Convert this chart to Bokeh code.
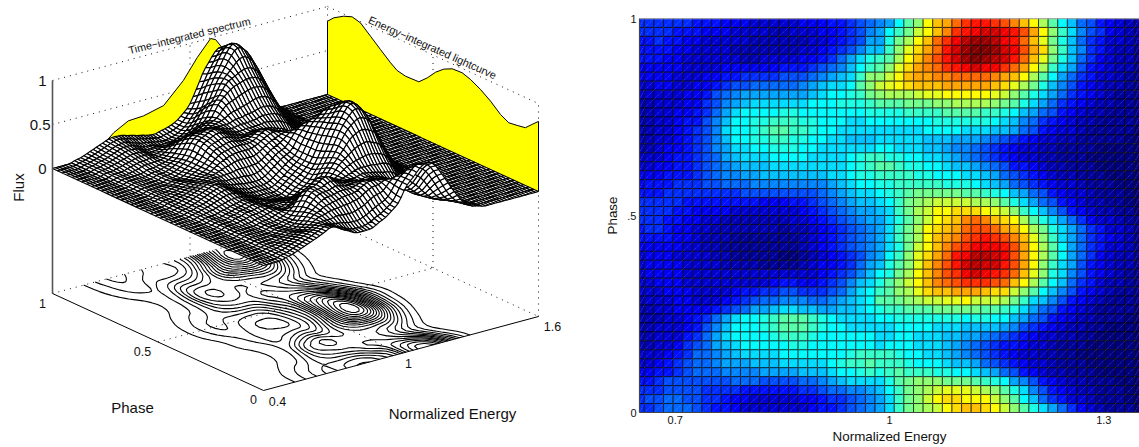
import numpy as np
import contourpy
from bokeh.core.properties import value
from bokeh.embed import file_html
from bokeh.layouts import column, row
from bokeh.models import ColumnDataSource, LinearColorMapper, Range1d, Span
from bokeh.plotting import figure
from bokeh.resources import INLINE

# Flux per cell, one base-36 digit (0..z = 0..1), top row = phase 1, energy 0.65 .. 1.35
FLUX_ROWS = [
 "6666665554 4433333444 556789adgi moprtuutsq omjgdb8754 322",
 "6666555444 3333223334 45679adfhk moqtuvwwvu spmifc9764 322",
 "5565544333 3322222233 4567aaehjm ortvxyyxvu rolheb8653 322",
 "5555443333 2222222334 5679bbfiln pruwyzzywv spnifb9653 221",
 "5554433333 3223333445 68acefgjmo qsuwyzyxwu rolheb8643 221",
 "4444433334 4444455567 89bdfgilnp qrtuvwvvtr pmjfca7543 221",
 "4444333445 5666677789 abcfiikmop pqqrrrrqpo mjgda86533 211",
 "3344334456 77888889ab ccdgiklmno ooppppponl jheb975432 211",
 "3333344578 9aaaaaaabc ddefhijjjk llmmmmmlki geca865432 111",
 "2233344679 abccccccdd deeefggghh hiijjjjihg eca8654322 111",
 "223344568a cddddeeddd ddddeeeeff ffggggffed ba87543221 111",
 "223345579b ddeefffeed ddccdddddd deeeeeedcb 9865432211 111",
 "223345679c ddefggffed dccccccccc ddddcccbba 8754332111 110",
 "223345679b ddeeffeedd ccbbbccccc bbbaaa9876 5433221111 100",
 "223445679a ccddeeeddc cccccddccc bba9987654 3322111100 000",
 "333455678a bcccddddcc ccdeffeedd ccba987654 3322111000 000",
 "3344556789 abbbcccccc ccdefggfee ddcbba9875 5432211100 000",
 "4445556789 9aabbbbbbb ccdeeffffe edddccba87 6543221110 000",
 "4555666778 8899999999 abcddeefff ffeeedcba8 7654332111 000",
 "5556666666 6777777778 9abccdefgh hhhhggfedb a875433211 100",
 "6666655555 5554445567 89abbcdfhi jkkkkjjige ca87543221 100",
 "6666554444 3333333456 789aabcfhj kmmnnnmlki fdb9754322 110",
 "6665544332 2222223345 6789aacegi kmnoqrqonm jgeca86433 211",
 "5665443322 2222212234 56789acfhj mnoprssrpo mjheca8653 321",
 "5555443222 1111111234 56789acfhj mopqstutsq olifca8654 321",
 "4444433221 1111111234 56789acehk moqstvvvus pmjgda8653 321",
 "3444333322 1111100123 45679adfil npruvxxwvs pmjgda8643 221",
 "3444433332 2221111234 4568abegil oqsuwxwwus pmifca7543 221",
 "3444433333 3333333334 5679bdehjm oqstvwvutr oliec97543 211",
 "3344433333 3333455445 679bcegikm oqrstttsro mjgdb86532 211",
 "3334443333 4556677666 78acdfgijl nooppponnk igdb975432 111",
 "2333443334 5678899988 9abcdgghij kkllmkkkjh fcb9754321 111",
 "2233444456 78aabccbba abbcdeffgg ghhhhhggfe ca87543211 110",
 "222334568a cddefgggfe dccccddeee eeeedeeddb a875432211 100",
 "223334579b dddefgggfe ddcccccddd dcccbbbba9 7654322110 000",
 "22333568ac ddddefffed dddddccddc ccbbaa9876 5433221100 000",
 "22334678ab cdddddeedd dddddcdddc ccba987655 4332111000 000",
 "333456889a bccccddddd ddeffffedd ccba987654 3322110000 000",
 "334567889a aabbbccccc deffgfffed ddcbba8765 4332111000 000",
 "4455678889 999aaaabbb cddefefgff feeddcba87 5432211100 000",
 "5567777777 8887777889 abccccegh i iihhhgfeda 9754322111 000",
 "6667777666 6555555667 8899abdfhi jklllkjige c975432211 100",
 "6778877665 4433333445 66789acfhi kmnnmmmkig db86533211 100",
 "6678887655 4333333345 56789acfhi jkmnoonmki geca864321 110",
]
# The surface also runs over energies the map leaves out: 0.4 .. 0.65 and 1.35 .. 1.6
LOW_ENERGY_TAIL = [
 "000000011122334455", "000000011122334455", "000000011122233445", "000000011122233445",
 "000000011122233445", "000000011112223334", "000000011112223334", "000000001111122233",
 "000000001111122233", "000000001111111122", "000000001111111122", "000000001111111122",
 "000000001111111122", "000000001111111122", "000000001111111122", "000000001111122233",
 "000000001111122233", "000000011112223334", "000000011112223334", "000000011122233445",
 "000000011122334455", "000000011122334455", "000000011122334455", "000000011122233445",
 "000000011122233445", "000000011112223334", "000000001111122233", "000000001111122233",
 "000000001111122233", "000000001111122233", "000000001111122233", "000000001111111122",
 "000000001111111122", "000000001111111122", "000000001111111122", "000000001111111122",
 "000000001111111122", "000000001111122233", "000000001111122233", "000000011112223334",
 "000000011122233445", "000000011122334455", "000000011122334455", "000000011122334455",
]
HIGH_ENERGY_TAIL = (
 ["110000000000000000"] * 3 + ["100000000000000000"] * 9 + ["000000000000000000"] * 10
 + ["100000000000000000"] * 10 + ["000000000000000000"] * 12
)

SPECTRUM_ENERGY = [0.40, 0.52, 0.60, 0.667, 0.731, 0.797, 0.885, 0.971, 1.032, 1.09, 1.112, 1.15, 1.22, 1.30, 1.40, 1.60]
SPECTRUM_FLUX = [0.0, 0.0, 0.067, 0.22, 0.31, 0.32, 0.376, 0.60, 0.82, 0.994, 0.966, 0.815, 0.45, 0.15, 0.0, 0.0]
LIGHTCURVE_PHASE = [1.0, 0.970, 0.923, 0.883, 0.844, 0.796, 0.749, 0.701, 0.670, 0.630, 0.567, 0.527, 0.488,
                    0.449, 0.409, 0.362, 0.322, 0.275, 0.227, 0.180, 0.141, 0.101, 0.062, 0.030, 0.0]
LIGHTCURVE_FLUX = [0.833, 0.905, 0.975, 1.012, 0.987, 0.887, 0.788, 0.69, 0.637, 0.616, 0.622, 0.711, 0.818,
                   0.896, 0.944, 0.951, 0.918, 0.857, 0.776, 0.677, 0.626, 0.64, 0.657, 0.73, 0.797]
CONTOUR_LEVELS = [0.05, 0.10, 0.15, 0.20, 0.25, 0.30, 0.35, 0.40, 0.45, 0.50,
                  0.55, 0.60, 0.65, 0.70, 0.75, 0.80, 0.85, 0.90, 0.95]
FLOOR = -1.42
FONT = value("Liberation Sans")


def digits(s):
    return [int(c, 36) / 35 for c in s.replace(" ", "")]


def soften(a):
    k = np.array([1, 2, 1]) / 4
    pad = np.pad(a, 1, mode="edge")
    out = np.apply_along_axis(lambda c: np.convolve(c, k, "valid"), 0, pad)
    return np.apply_along_axis(lambda c: np.convolve(c, k, "valid"), 1, out)


core = np.array([digits(r) for r in FLUX_ROWS])
low = np.array([digits(r) for r in LOW_ENERGY_TAIL])
high = np.array([digits(r) for r in HIGH_ENERGY_TAIL])
full = np.hstack([low, core, high])
n_rows, n_cols = full.shape
energy = np.linspace(0.4, 1.6, n_cols)
phase = np.linspace(1, 0, n_rows)

# soften the one-digit reading steps for the line work
smooth = soften(full)
smooth[:, 0] = 0
smooth[:, -1] = 0
smoother = soften(soften(smooth))


def proj(e, ph, z):
    f = (np.asarray(e, float) - 0.4) / 1.2
    ph = np.asarray(ph, float)
    z = np.asarray(z, float)
    return 263 + 275 * f - 211 * ph, 390 - 74 * f - 97 * ph - 88 * (z - FLOOR)


left = figure(width=600, height=447, x_range=Range1d(0, 600), y_range=Range1d(447, 0),
              x_axis_type=None, y_axis_type=None, toolbar_location=None, output_backend="svg",
              min_border=0, outline_line_color=None)

# dotted box grid
grid = [
    ((0.4, 1, 0), (1.6, 1, 0)), ((0.4, 1, 0.5), (1.6, 1, 0.5)), ((0.4, 1, 1), (1.6, 1, 1)),
    ((1.6, 1, 0.5), (1.6, 0, 0.5)), ((1.6, 1, 1), (1.6, 0, 1)),
    ((1, 1, FLOOR), (1, 1, 1)), ((1.6, 0.5, FLOOR), (1.6, 0.5, 1)), ((1.6, 0, FLOOR), (1.6, 0, 1)),
    ((1.6, 1, FLOOR), (1.6, 1, 1)),
    ((0.4, 1, FLOOR), (1.6, 1, FLOOR)), ((1.6, 1, FLOOR), (1.6, 0, FLOOR)),
    ((1, 1, FLOOR), (1, 0, FLOOR)), ((0.4, 0.5, FLOOR), (1.6, 0.5, FLOOR)),
]
gx, gy = [], []
for a, b in grid:
    x, y = proj([a[0], b[0]], [a[1], b[1]], [a[2], b[2]])
    gx.append(x.tolist())
    gy.append(y.tolist())
left.multi_line(gx, gy, line_color="#111111", line_width=1, line_dash="1 5")

# yellow walls
e = np.array(SPECTRUM_ENERGY)
x, y = proj(e, np.ones_like(e), SPECTRUM_FLUX)
x0, y0 = proj(e, np.ones_like(e), np.zeros_like(e))
left.patch(np.r_[x, x0[::-1]], np.r_[y, y0[::-1]], fill_color="#ffff00", line_color=None)
left.line(x, y, line_color="black", line_width=1)
ph = np.array(LIGHTCURVE_PHASE)
x, y = proj(np.full_like(ph, 1.6), ph, LIGHTCURVE_FLUX)
x0, y0 = proj(np.full_like(ph, 1.6), ph, np.zeros_like(ph))
left.patch(np.r_[x, x0[::-1]], np.r_[y, y0[::-1]], fill_color="#ffff00", line_color=None)
left.line(np.r_[x0[0], x, x0[-1]], np.r_[y0[0], y, y0[-1]], line_color="black", line_width=1)

# floor contours
gen = contourpy.contour_generator(x=energy, y=phase[::-1], z=smoother[::-1])
cx, cy = [], []
for level in CONTOUR_LEVELS:
    for seg in gen.lines(level):
        x, y = proj(seg[:, 0], seg[:, 1], np.full(len(seg), FLOOR))
        cx.append(x.tolist())
        cy.append(y.tolist())
left.multi_line(cx, cy, line_color="black", line_width=1.1)

# mesh, painted back to front
sx, sy = proj(*np.broadcast_arrays(energy[None, :], phase[:, None], smooth))
xs, ys = [], []
for i in range(n_rows - 1):
    for j in range(n_cols - 2, -1, -1):
        xs.append([sx[i, j], sx[i, j + 1], sx[i + 1, j + 1], sx[i + 1, j]])
        ys.append([sy[i, j], sy[i, j + 1], sy[i + 1, j + 1], sy[i + 1, j]])
left.patches(xs, ys, fill_color="white", line_color="black", line_width=1.15)

# axes of the box
ax, ay = [], []
for a, b in [((0.4, 1, FLOOR), (0.4, 0, FLOOR)), ((0.4, 0, FLOOR), (1.6, 0, FLOOR))]:
    x, y = proj([a[0], b[0]], [a[1], b[1]], [a[2], b[2]])
    ax.append(x.tolist())
    ay.append(y.tolist())
left.multi_line(ax, ay, line_color="black", line_width=1)
x, y = proj([0.4, 0.4], [1, 1], [FLOOR, 1])
left.line(x, y, line_color="#555555", line_width=1.6)


def label(fig, x, y, t, size, angle=0, align="center"):
    fig.text([x], [y], text=[t], text_font=FONT, text_font_size=size, text_color="#111111",
             text_align=align, text_baseline="middle", angle=angle)


label(left, 46, 80, "1", "15px", align="right")
label(left, 50, 124, "0.5", "15px", align="right")
label(left, 46, 168, "0", "15px", align="right")
label(left, 42, 303, "1", "12.5px")
label(left, 142, 351, "0.5", "12.5px")
label(left, 253, 399, "0", "12.5px")
label(left, 277, 401, "0.4", "12.5px")
label(left, 408, 363, "1", "12.5px")
label(left, 552, 326, "1.6", "12.5px")
label(left, 18, 187, "Flux", "15px", angle=np.pi / 2)
label(left, 132, 407, "Phase", "15px")
label(left, 452, 413, "Normalized Energy", "15px")
label(left, 189, 35, "Time\u2212integrated spectrum", "10.8px", angle=0.24)
label(left, 432, 47, "Energy\u2212integrated lightcurve", "10.9px", angle=-0.42)

# colour map
jet = []
for v in np.linspace(0, 1, 256):
    r = np.clip(min(4 * v - 1.5, 4.5 - 4 * v), 0, 1)
    g = np.clip(min(4 * v - 0.5, 3.5 - 4 * v), 0, 1)
    b = np.clip(min(4 * v + 0.5, 2.5 - 4 * v), 0, 1)
    jet.append("#%02x%02x%02x" % (int(r * 255), int(g * 255), int(b * 255)))
mapper = LinearColorMapper(palette=jet, low=0, high=1)

right = figure(width=539, height=447, x_range=Range1d(0.65, 1.35), y_range=Range1d(0, 1),
               toolbar_location=None, output_backend="svg", min_border_left=39, min_border_right=0,
               min_border_top=18, min_border_bottom=35, outline_line_color=None)
right.grid.visible = False

nc = core.shape[1]
de = 0.7 / (nc - 1)
centers = 0.65 + np.arange(nc) * de
lefts = np.clip(centers - de / 2, 0.65, 1.35)
rights = np.clip(centers + de / 2, 0.65, 1.35)
nr = core.shape[0]
tops = 1 - np.arange(nr) / nr
bottoms = 1 - (np.arange(nr) + 1) / nr
L, T = np.meshgrid(lefts, tops)
R, B = np.meshgrid(rights, bottoms)
src = ColumnDataSource(dict(l=L.ravel(), r=R.ravel(), t=T.ravel(), b=B.ravel(), z=core.ravel()))
right.quad(left="l", right="r", top="t", bottom="b", source=src,
           fill_color={"field": "z", "transform": mapper}, line_color="black", line_width=0.65)
right.segment(x0="l", y0="b", x1="r", y1="t", source=src, line_color="white", line_alpha=0.4,
              line_width=0.6, line_dash="1 1")
right.add_layout(Span(location=1, dimension="width", line_color="#b0b0b0", line_width=1.5))

right.xaxis.ticker = [0.7, 1, 1.3]
right.xaxis.major_label_overrides = {0.7: "0.7", 1: "1", 1.3: "1.3"}
right.yaxis.ticker = [0, 0.5, 1]
right.yaxis.major_label_overrides = {0: "0", 0.5: ".5", 1: "1"}
right.xaxis.axis_label = "Normalized Energy"
right.yaxis.axis_label = "Phase"
for axis in (right.xaxis[0], right.yaxis[0]):
    axis.axis_line_color = "#444444"
    axis.axis_line_width = 1.2
    axis.major_tick_in = 0
    axis.major_tick_out = 0
    axis.minor_tick_in = 0
    axis.minor_tick_out = 0
    axis.major_tick_line_color = None
    axis.minor_tick_line_color = None
    axis.major_label_text_font = "Liberation Sans"
    axis.major_label_text_font_size = "11px"
    axis.major_label_text_color = "#111111"
    axis.axis_label_text_font = "Liberation Sans"
    axis.axis_label_text_font_size = "13.4px"
    axis.axis_label_text_font_style = "normal"
    axis.axis_label_text_color = "#111111"
    axis.major_label_standoff = 3
    axis.axis_label_standoff = 2
right.yaxis[0].axis_label_standoff = 4

page = row(column(left), column(right), spacing=0)
open("out.html", "w").write(file_html(page, INLINE))
